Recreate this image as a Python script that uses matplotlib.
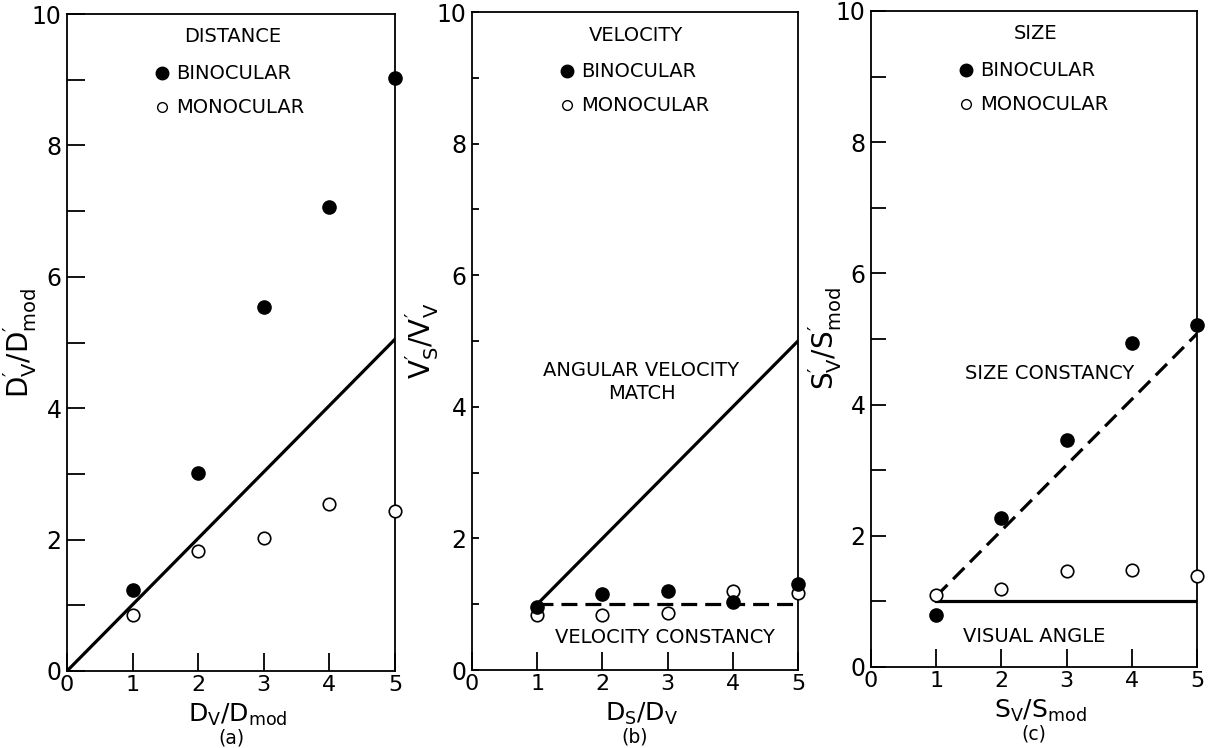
import matplotlib
matplotlib.use("Agg")
import matplotlib.pyplot as plt

plt.rcParams['font.family'] = ['DejaVu Sans']
plt.rcParams['mathtext.default'] = 'regular'

x_vals = [1, 2, 3, 4, 5]

# Panel (a) Distance
dist_bin = [1.24, 3.02, 5.54, 7.06, 9.03]
dist_mono = [0.85, 1.82, 2.03, 2.54, 2.44]
dist_line_x = [0, 5]
dist_line_y = [0, 5.05]

# Panel (b) Velocity
vel_bin = [0.95, 1.15, 1.2, 1.03, 1.31]
vel_mono = [0.83, 0.84, 0.87, 1.2, 1.17]
vel_solid_x = [1, 5]
vel_solid_y = [1, 5]
vel_dash_x = [1, 5]
vel_dash_y = [1, 1]

# Panel (c) Size
size_bin = [0.79, 2.27, 3.46, 4.94, 5.21]
size_mono = [1.1, 1.19, 1.47, 1.48, 1.39]
size_dash_x = [1, 5]
size_dash_y = [1.08, 5.08]
size_solid_x = [1, 5]
size_solid_y = [1, 1]

W, H = 1209, 748
fig = plt.figure(figsize=(W / 100, H / 100), dpi=100)

axes_px = [(67, 395, 14, 671), (472, 798, 12, 670), (871, 1197, 11, 667)]
axs = []
for (l, r, t, b) in axes_px:
    ax = fig.add_axes([l / W, 1 - b / H, (r - l) / W, (b - t) / H])
    axs.append(ax)

ylens = [13, 5, 11]
titles = ["DISTANCE", "VELOCITY", "SIZE"]
ylabels = [r"$D_V^{\prime}/D_{mod}^{\prime}$", r"$V_S^{\prime}/V_V^{\prime}$", r"$S_V^{\prime}/S_{mod}^{\prime}$"]
ylab_x = [-0.085, -0.095, -0.082]
xlabels = [r"$D_V/D_{mod}$", r"$D_S/D_V$", r"$S_V/S_{mod}$"]
letters = ["(a)", "(b)", "(c)"]
bins = [dist_bin, vel_bin, size_bin]
monos = [dist_mono, vel_mono, size_mono]

for i, ax in enumerate(axs):
    ax.set_xlim(0, 5)
    ax.set_ylim(0, 10)
    for s in ax.spines.values():
        s.set_linewidth(1.3)
    ax.set_xticks([0, 1, 2, 3, 4, 5])
    ax.set_yticks([0, 2, 4, 6, 8, 10])
    ax.set_yticks([1, 3, 5, 7, 9], minor=True)
    ax.tick_params(axis='x', direction='in', length=13, width=1.3, labelsize=16, pad=3)
    ax.tick_params(axis='y', which='both', direction='in', length=ylens[i], width=1.3, labelsize=17, pad=4)
    ax.set_ylabel(ylabels[i], fontsize=20)
    ax.yaxis.set_label_coords(ylab_x[i], 0.5)
    ax.text(0.52, -0.0665, xlabels[i], transform=ax.transAxes, ha='center', va='center', fontsize=18)
    ax.text(0.5, -0.102, letters[i], transform=ax.transAxes, ha='center', va='center', fontsize=13.5)

    # legend-like annotation
    ax.text(2.52, 9.65, titles[i], ha='center', va='center', fontsize=14)
    ax.plot([1.45], [9.1], 'o', color='black', markersize=9, clip_on=False)
    ax.text(1.67, 9.1, "BINOCULAR", ha='left', va='center', fontsize=14)
    ax.plot([1.45], [8.58], 'o', markerfacecolor='white', markeredgecolor='black',
            markersize=7, markeredgewidth=1.0)
    ax.text(1.67, 8.58, "MONOCULAR", ha='left', va='center', fontsize=14)

# Panel a lines
axs[0].plot(dist_line_x, dist_line_y, color='black', lw=2.3, zorder=2)
# Panel b lines
axs[1].plot(vel_solid_x, vel_solid_y, color='black', lw=2.3, zorder=2)
axs[1].plot(vel_dash_x, vel_dash_y, color='black', lw=2.3, ls=(0, (5, 2.5)), zorder=2)
axs[1].text(2.6, 4.55, "ANGULAR VELOCITY", ha='center', va='center', fontsize=14)
axs[1].text(2.6, 4.2, "MATCH", ha='center', va='center', fontsize=14)
axs[1].text(2.96, 0.49, "VELOCITY CONSTANCY", ha='center', va='center', fontsize=14)
# Panel c lines
axs[2].plot(size_dash_x, size_dash_y, color='black', lw=2.3, ls=(0, (5, 2.5)), zorder=2)
axs[2].plot(size_solid_x, size_solid_y, color='black', lw=2.3, zorder=2)
axs[2].text(2.74, 4.48, "SIZE CONSTANCY", ha='center', va='center', fontsize=14)
axs[2].text(2.5, 0.46, "VISUAL ANGLE", ha='center', va='center', fontsize=14)

for i, ax in enumerate(axs):
    ax.plot(x_vals, monos[i], 'o', markerfacecolor='white', markeredgecolor='black',
            markersize=9, markeredgewidth=1.2, clip_on=False, zorder=3)
    ax.plot(x_vals, bins[i], 'o', color='black', markersize=9.5, clip_on=False, zorder=4)

fig.savefig("out.png", dpi=100)
